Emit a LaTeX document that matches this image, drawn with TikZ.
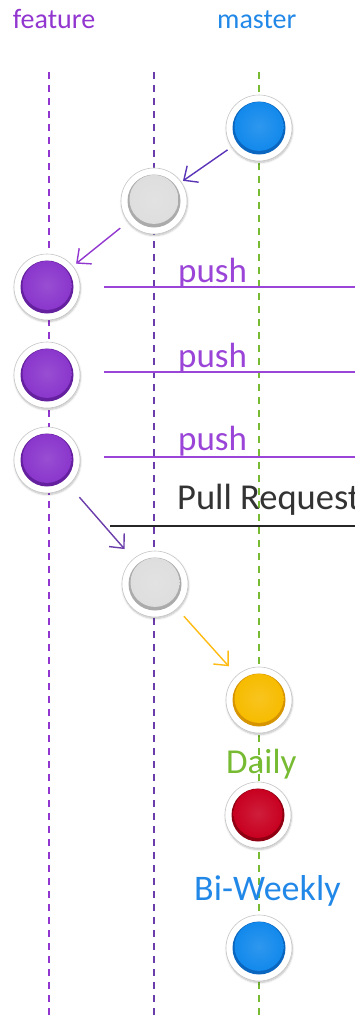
\documentclass[tikz,border=0pt]{standalone}
\usepackage{fontspec}
\setmainfont{Carlito}
\usetikzlibrary{arrows.meta,shadows.blur}
\definecolor{featcol}{HTML}{9236D0}
\definecolor{devcol}{HTML}{6A3DAA}
\definecolor{mastcol}{HTML}{77BB33}
\definecolor{bluetxt}{HTML}{2288E8}
\definecolor{pushcol}{HTML}{9A45D8}
\definecolor{balblue}{HTML}{1289EC}
\definecolor{balbluedk}{HTML}{0A66BE}
\definecolor{balgrey}{HTML}{DEDEDE}
\definecolor{balgreydk}{HTML}{ABABAB}
\definecolor{balpurple}{HTML}{8A36CC}
\definecolor{balpurpledk}{HTML}{64209E}
\definecolor{balyellow}{HTML}{F7BC00}
\definecolor{balyellowdk}{HTML}{D69400}
\definecolor{balred}{HTML}{C80020}
\definecolor{balreddk}{HTML}{8E0012}
\definecolor{arrowyel}{HTML}{FFBB11}
\definecolor{prtxt}{HTML}{333333}
\tikzset{
  lane/.style={dashed, dash pattern=on 7pt off 6pt, line width=2pt},
  ball/.style={circle, minimum size=66pt, inner sep=0pt, fill=white, draw=black!22, line width=0.6pt,
    blur shadow={shadow blur steps=6, shadow xshift=0.5pt, shadow yshift=-1.5pt, shadow opacity=25},
    path picture={
      \fill[#1dk] (path picture bounding box.center) circle (26.5);
      \shade[inner color=#1!88!white, outer color=#1] ([yshift=1.6pt]path picture bounding box.center) circle (24.5);
    }},
  flow/.style={line width=1.4pt, -{Straight Barb[length=11pt,width=20pt,line width=1.4pt]}},
  pushline/.style={pushcol, line width=1.3pt},
  lbl/.style={anchor=base west, inner sep=0pt, font=\fontsize{35}{38}\selectfont}
}
\begin{document}
\begin{tikzpicture}[x=1pt,y=-1pt]
\useasboundingbox (0,0) rectangle (355,1020);
% headers
\node[anchor=base, inner sep=0pt, text=featcol, font=\fontsize{28}{30}\selectfont] (hf) at (54,28) {feature};
\node[anchor=base west, inner sep=0pt, text=bluetxt, font=\fontsize{28}{30}\selectfont] (hm) at (217,28) {master};
% lanes
\coordinate (lf0) at (49,72);  \coordinate (lf1) at (49,1020);
\coordinate (ld0) at (154,72); \coordinate (ld1) at (154,1020);
\coordinate (lm0) at (259,72); \coordinate (lm1) at (259,1020);
\draw[lane, featcol] (lf0) -- (lf1);
\draw[lane, devcol] (ld0) -- (ld1);
\draw[lane, mastcol] (lm0) -- (lm1);
% push lines and labels
\coordinate (p1a) at (104,287); \coordinate (p1b) at (355,287);
\coordinate (p2a) at (104,372); \coordinate (p2b) at (355,372);
\coordinate (p3a) at (104,457); \coordinate (p3b) at (355,457);
\coordinate (pra) at (110,526); \coordinate (prb) at (355,526);
\draw[pushline] (p1a) -- (p1b);
\draw[pushline] (p2a) -- (p2b);
\draw[pushline] (p3a) -- (p3b);
\draw[black!85, line width=1.6pt] (pra) -- (prb);
\node[lbl, text=pushcol] (t1) at (178,282) {push};
\node[lbl, text=pushcol] (t2) at (178,367) {push};
\node[lbl, text=pushcol] (t3) at (178,450) {push};
\node[lbl, text=prtxt, font=\fontsize{36.5}{38}\selectfont] (tpr) at (177,509) {Pull Request};
\node[lbl, text=mastcol] (tdaily) at (226,773) {Daily};
\node[lbl, text=bluetxt, font=\fontsize{36}{38}\selectfont] (tbi) at (194,900) {Bi-Weekly};
% commits
\node[ball=balblue] (m1) at (259,128) {};
\node[ball=balgrey] (d1) at (154,201) {};
\node[ball=balpurple] (f1) at (47,287) {};
\node[ball=balpurple] (f2) at (47,375) {};
\node[ball=balpurple] (f3) at (47,460) {};
\node[ball=balgrey] (d2) at (155,584) {};
\node[ball=balyellow] (m2) at (259,700) {};
\node[ball=balred] (m3) at (258,815) {};
\node[ball=balblue] (m4) at (259,948) {};
% flow arrows
\draw[flow, devcol!85!blue, shorten <=5pt, shorten >=2pt] (m1) -- (d1);
\draw[flow, featcol, shorten <=10pt, shorten >=4pt] (d1) -- (f1);
\draw[flow, devcol, shorten <=16pt, shorten >=13pt] (f3) -- (d2);
\draw[flow, arrowyel, shorten <=10pt, shorten >=12pt] (d2) -- (m2);
\end{tikzpicture}
\end{document}
